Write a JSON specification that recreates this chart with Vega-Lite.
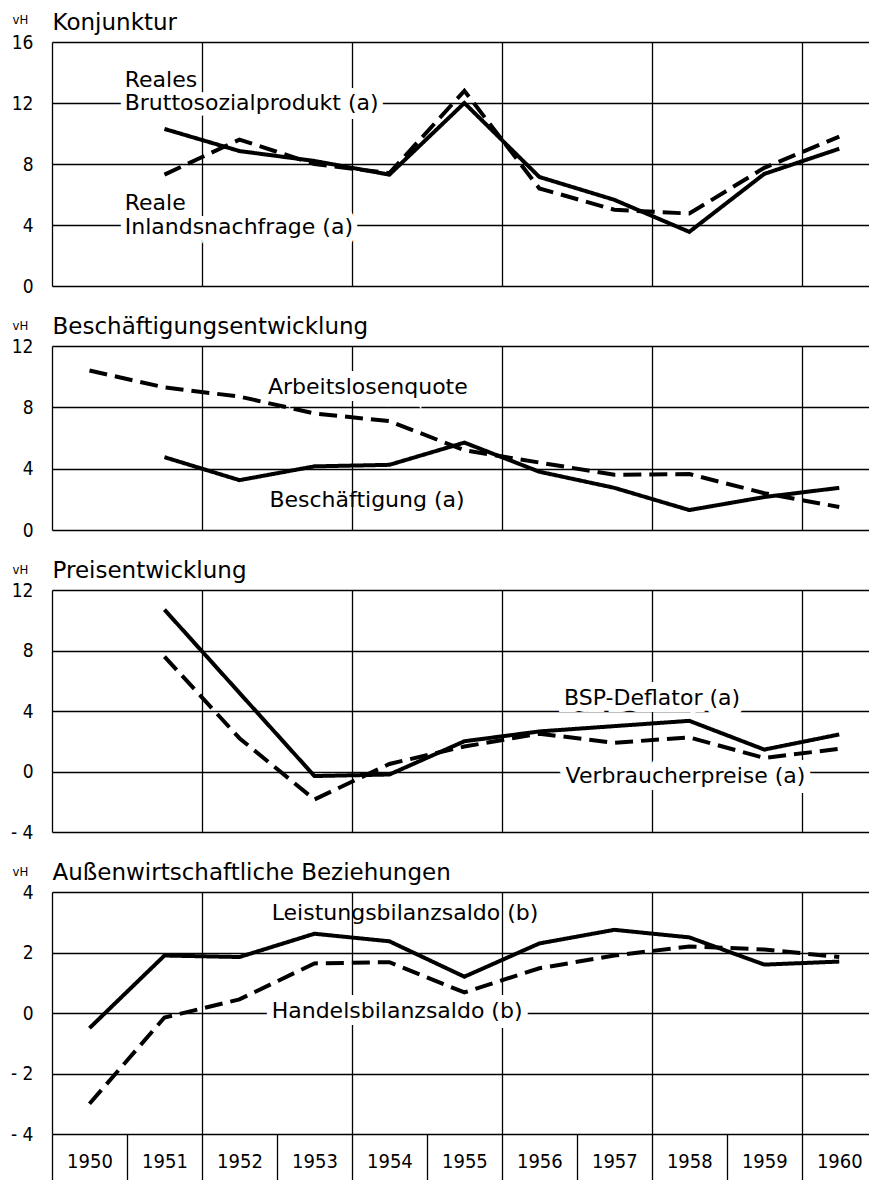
{
  "$schema": "https://vega.github.io/schema/vega-lite/v6.json",
  "background": "white",
  "padding": {"left": 10, "top": 11, "right": 0, "bottom": 0},
  "config": {
    "view": {"stroke": null},
    "font": "DejaVu Sans",
    "text": {"font": "DejaVu Sans"}
  },
  "spacing": 60,
  "bounds": "flush",
  "datasets": {
    "series": [
      {"panel": 1, "series": "Reales Bruttosozialprodukt", "year": 1951, "value": 10.3},
      {"panel": 1, "series": "Reales Bruttosozialprodukt", "year": 1952, "value": 8.85},
      {"panel": 1, "series": "Reales Bruttosozialprodukt", "year": 1953, "value": 8.2},
      {"panel": 1, "series": "Reales Bruttosozialprodukt", "year": 1954, "value": 7.3},
      {"panel": 1, "series": "Reales Bruttosozialprodukt", "year": 1955, "value": 12.0},
      {"panel": 1, "series": "Reales Bruttosozialprodukt", "year": 1956, "value": 7.15},
      {"panel": 1, "series": "Reales Bruttosozialprodukt", "year": 1957, "value": 5.65},
      {"panel": 1, "series": "Reales Bruttosozialprodukt", "year": 1958, "value": 3.55},
      {"panel": 1, "series": "Reales Bruttosozialprodukt", "year": 1959, "value": 7.35},
      {"panel": 1, "series": "Reales Bruttosozialprodukt", "year": 1960, "value": 9.0},
      {"panel": 1, "series": "Reale Inlandsnachfrage", "year": 1951, "value": 7.3},
      {"panel": 1, "series": "Reale Inlandsnachfrage", "year": 1952, "value": 9.6},
      {"panel": 1, "series": "Reale Inlandsnachfrage", "year": 1953, "value": 8.0},
      {"panel": 1, "series": "Reale Inlandsnachfrage", "year": 1954, "value": 7.4},
      {"panel": 1, "series": "Reale Inlandsnachfrage", "year": 1955, "value": 12.8},
      {"panel": 1, "series": "Reale Inlandsnachfrage", "year": 1956, "value": 6.4},
      {"panel": 1, "series": "Reale Inlandsnachfrage", "year": 1957, "value": 5.0},
      {"panel": 1, "series": "Reale Inlandsnachfrage", "year": 1958, "value": 4.75},
      {"panel": 1, "series": "Reale Inlandsnachfrage", "year": 1959, "value": 7.75},
      {"panel": 1, "series": "Reale Inlandsnachfrage", "year": 1960, "value": 9.8},
      {"panel": 2, "series": "Beschäftigung", "year": 1951, "value": 4.75},
      {"panel": 2, "series": "Beschäftigung", "year": 1952, "value": 3.25},
      {"panel": 2, "series": "Beschäftigung", "year": 1953, "value": 4.15},
      {"panel": 2, "series": "Beschäftigung", "year": 1954, "value": 4.25},
      {"panel": 2, "series": "Beschäftigung", "year": 1955, "value": 5.7},
      {"panel": 2, "series": "Beschäftigung", "year": 1956, "value": 3.8},
      {"panel": 2, "series": "Beschäftigung", "year": 1957, "value": 2.75},
      {"panel": 2, "series": "Beschäftigung", "year": 1958, "value": 1.3},
      {"panel": 2, "series": "Beschäftigung", "year": 1959, "value": 2.15},
      {"panel": 2, "series": "Beschäftigung", "year": 1960, "value": 2.75},
      {"panel": 2, "series": "Arbeitslosenquote", "year": 1950, "value": 10.4},
      {"panel": 2, "series": "Arbeitslosenquote", "year": 1951, "value": 9.3},
      {"panel": 2, "series": "Arbeitslosenquote", "year": 1952, "value": 8.7},
      {"panel": 2, "series": "Arbeitslosenquote", "year": 1953, "value": 7.6},
      {"panel": 2, "series": "Arbeitslosenquote", "year": 1954, "value": 7.1},
      {"panel": 2, "series": "Arbeitslosenquote", "year": 1955, "value": 5.2},
      {"panel": 2, "series": "Arbeitslosenquote", "year": 1956, "value": 4.4},
      {"panel": 2, "series": "Arbeitslosenquote", "year": 1957, "value": 3.6},
      {"panel": 2, "series": "Arbeitslosenquote", "year": 1958, "value": 3.65},
      {"panel": 2, "series": "Arbeitslosenquote", "year": 1959, "value": 2.4},
      {"panel": 2, "series": "Arbeitslosenquote", "year": 1960, "value": 1.5},
      {"panel": 3, "series": "BSP-Deflator", "year": 1951, "value": 10.7},
      {"panel": 3, "series": "BSP-Deflator", "year": 1952, "value": 5.2},
      {"panel": 3, "series": "BSP-Deflator", "year": 1953, "value": -0.3},
      {"panel": 3, "series": "BSP-Deflator", "year": 1954, "value": -0.2},
      {"panel": 3, "series": "BSP-Deflator", "year": 1955, "value": 2.0},
      {"panel": 3, "series": "BSP-Deflator", "year": 1956, "value": 2.65},
      {"panel": 3, "series": "BSP-Deflator", "year": 1957, "value": 3.0},
      {"panel": 3, "series": "BSP-Deflator", "year": 1958, "value": 3.35},
      {"panel": 3, "series": "BSP-Deflator", "year": 1959, "value": 1.45},
      {"panel": 3, "series": "BSP-Deflator", "year": 1960, "value": 2.45},
      {"panel": 3, "series": "Verbraucherpreise", "year": 1951, "value": 7.6},
      {"panel": 3, "series": "Verbraucherpreise", "year": 1952, "value": 2.2},
      {"panel": 3, "series": "Verbraucherpreise", "year": 1953, "value": -1.85},
      {"panel": 3, "series": "Verbraucherpreise", "year": 1954, "value": 0.5},
      {"panel": 3, "series": "Verbraucherpreise", "year": 1955, "value": 1.65},
      {"panel": 3, "series": "Verbraucherpreise", "year": 1956, "value": 2.5},
      {"panel": 3, "series": "Verbraucherpreise", "year": 1957, "value": 1.9},
      {"panel": 3, "series": "Verbraucherpreise", "year": 1958, "value": 2.25},
      {"panel": 3, "series": "Verbraucherpreise", "year": 1959, "value": 0.9},
      {"panel": 3, "series": "Verbraucherpreise", "year": 1960, "value": 1.5},
      {"panel": 4, "series": "Leistungsbilanzsaldo", "year": 1950, "value": -0.5},
      {"panel": 4, "series": "Leistungsbilanzsaldo", "year": 1951, "value": 1.9},
      {"panel": 4, "series": "Leistungsbilanzsaldo", "year": 1952, "value": 1.85},
      {"panel": 4, "series": "Leistungsbilanzsaldo", "year": 1953, "value": 2.62},
      {"panel": 4, "series": "Leistungsbilanzsaldo", "year": 1954, "value": 2.37},
      {"panel": 4, "series": "Leistungsbilanzsaldo", "year": 1955, "value": 1.2},
      {"panel": 4, "series": "Leistungsbilanzsaldo", "year": 1956, "value": 2.3},
      {"panel": 4, "series": "Leistungsbilanzsaldo", "year": 1957, "value": 2.75},
      {"panel": 4, "series": "Leistungsbilanzsaldo", "year": 1958, "value": 2.5},
      {"panel": 4, "series": "Leistungsbilanzsaldo", "year": 1959, "value": 1.6},
      {"panel": 4, "series": "Leistungsbilanzsaldo", "year": 1960, "value": 1.7},
      {"panel": 4, "series": "Handelsbilanzsaldo", "year": 1950, "value": -3.0},
      {"panel": 4, "series": "Handelsbilanzsaldo", "year": 1951, "value": -0.15},
      {"panel": 4, "series": "Handelsbilanzsaldo", "year": 1952, "value": 0.45},
      {"panel": 4, "series": "Handelsbilanzsaldo", "year": 1953, "value": 1.64},
      {"panel": 4, "series": "Handelsbilanzsaldo", "year": 1954, "value": 1.68},
      {"panel": 4, "series": "Handelsbilanzsaldo", "year": 1955, "value": 0.68},
      {"panel": 4, "series": "Handelsbilanzsaldo", "year": 1956, "value": 1.48},
      {"panel": 4, "series": "Handelsbilanzsaldo", "year": 1957, "value": 1.9},
      {"panel": 4, "series": "Handelsbilanzsaldo", "year": 1958, "value": 2.2},
      {"panel": 4, "series": "Handelsbilanzsaldo", "year": 1959, "value": 2.1},
      {"panel": 4, "series": "Handelsbilanzsaldo", "year": 1960, "value": 1.85}
    ],
    "labels": [
      {"panel": 1, "text": "Reales", "year": 1950.47, "value": 13.5},
      {"panel": 1, "text": "Bruttosozialprodukt (a)", "year": 1950.47, "value": 12.0},
      {"panel": 1, "text": "Reale", "year": 1950.47, "value": 5.45},
      {"panel": 1, "text": "Inlandsnachfrage (a)", "year": 1950.47, "value": 3.9},
      {"panel": 2, "text": "Arbeitslosenquote", "year": 1952.38, "value": 9.3},
      {"panel": 2, "text": "Beschäftigung (a)", "year": 1952.4, "value": 1.96},
      {"panel": 3, "text": "BSP-Deflator (a)", "year": 1956.33, "value": 4.85},
      {"panel": 3, "text": "Verbraucherpreise (a)", "year": 1956.35, "value": -0.3},
      {"panel": 4, "text": "Leistungsbilanzsaldo (b)", "year": 1952.43, "value": 3.3},
      {"panel": 4, "text": "Handelsbilanzsaldo (b)", "year": 1952.43, "value": 0.07}
    ]
  },
  "vconcat": [
    {
      "width": 821, "height": 244,
      "resolve": {"axis": {"x": "independent"}},
      "layer": [
        {
          "data": {"name": "labels"},
          "transform": [{"filter": "datum.panel == 1 && (datum.text == 'Bruttosozialprodukt (a)' || datum.text == 'Inlandsnachfrage (a)')"}],
          "mark": {"type": "text", "align": "left", "baseline": "middle", "fontSize": 22, "fill": "white", "stroke": "white", "strokeWidth": 12},
          "encoding": {
            "x": {"field": "year", "type": "quantitative", "scale": {"domain": [1949.5, 1960.45], "nice": false, "zero": false},
              "axis": {"orient": "top", "values": [1949.5, 1951.5, 1953.5, 1955.5, 1957.5, 1959.5], "grid": true, "gridColor": "black", "gridWidth": 1.3, "gridOpacity": 1, "labels": false, "ticks": false, "domain": false,
                "title": "Konjunktur", "titleX": 0, "titleY": -13, "titleAlign": "left", "titleAnchor": "start", "titleBaseline": "alphabetic", "titleFontSize": 23, "titleFontWeight": "normal", "titleFont": "DejaVu Sans", "titleColor": "black", "titlePadding": 0}},
            "y": {"field": "value", "type": "quantitative", "scale": {"domain": [0, 16], "nice": false, "zero": false},
              "axis": {"values": [0, 4, 8, 12, 16], "grid": true, "gridColor": "black", "gridWidth": 1.3, "gridOpacity": 1, "domain": false, "ticks": false, "labelPadding": 19, "labelFontSize": 19, "labelFont": "DejaVu Sans Condensed", "labelColor": "black", "labelFlush": false, "labelOverlap": false, "labelBound": false, "labelExpr": "datum.value < 0 ? '- ' + abs(datum.value) : datum.label",
                "title": "vH", "titleAngle": 0, "titleX": -40, "titleY": -19, "titleAlign": "left", "titleBaseline": "alphabetic", "titleFontSize": 13, "titleFontWeight": "normal", "titleFont": "DejaVu Sans Condensed", "titleColor": "black"}},
            "text": {"field": "text"}
          }
        },
        {
          "data": {"name": "series"},
          "transform": [{"filter": "datum.panel == 1"}],
          "mark": {"type": "line", "color": "black", "strokeWidth": 4, "strokeCap": "butt"},
          "encoding": {
            "x": {"field": "year", "type": "quantitative", "axis": null},
            "y": {"field": "value", "type": "quantitative"},
            "strokeDash": {"field": "series", "type": "nominal", "scale": {"domain": ["Reales Bruttosozialprodukt", "Reale Inlandsnachfrage"], "range": [[1, 0], [18, 8]]}, "legend": null}
          }
        },
        {
          "data": {"name": "labels"},
          "transform": [{"filter": "datum.panel == 1"}],
          "mark": {"type": "text", "align": "left", "baseline": "middle", "fontSize": 22, "color": "black"},
          "encoding": {
            "x": {"field": "year", "type": "quantitative", "axis": null},
            "y": {"field": "value", "type": "quantitative"},
            "text": {"field": "text"}
          }
        }
      ]
    },
    {
      "width": 821, "height": 184,
      "resolve": {"axis": {"x": "independent"}},
      "layer": [
        {
          "data": {"name": "labels"},
          "transform": [{"filter": "datum.panel == 2 && datum.text == 'Arbeitslosenquote'"}],
          "mark": {"type": "text", "align": "left", "baseline": "middle", "fontSize": 22, "fill": "white", "stroke": "white", "strokeWidth": 14},
          "encoding": {
            "x": {"field": "year", "type": "quantitative", "scale": {"domain": [1949.5, 1960.45], "nice": false, "zero": false},
              "axis": {"orient": "top", "values": [1949.5, 1951.5, 1953.5, 1955.5, 1957.5, 1959.5], "grid": true, "gridColor": "black", "gridWidth": 1.3, "gridOpacity": 1, "labels": false, "ticks": false, "domain": false,
                "title": "Beschäftigungsentwicklung", "titleX": 0, "titleY": -13, "titleAlign": "left", "titleAnchor": "start", "titleBaseline": "alphabetic", "titleFontSize": 23, "titleFontWeight": "normal", "titleFont": "DejaVu Sans", "titleColor": "black", "titlePadding": 0}},
            "y": {"field": "value", "type": "quantitative", "scale": {"domain": [0, 12], "nice": false, "zero": false},
              "axis": {"values": [0, 4, 8, 12], "grid": true, "gridColor": "black", "gridWidth": 1.3, "gridOpacity": 1, "domain": false, "ticks": false, "labelPadding": 19, "labelFontSize": 19, "labelFont": "DejaVu Sans Condensed", "labelColor": "black", "labelFlush": false, "labelOverlap": false, "labelBound": false, "labelExpr": "datum.value < 0 ? '- ' + abs(datum.value) : datum.label",
                "title": "vH", "titleAngle": 0, "titleX": -40, "titleY": -17, "titleAlign": "left", "titleBaseline": "alphabetic", "titleFontSize": 13, "titleFontWeight": "normal", "titleFont": "DejaVu Sans Condensed", "titleColor": "black"}},
            "text": {"field": "text"}
          }
        },
        {
          "data": {"name": "series"},
          "transform": [{"filter": "datum.panel == 2"}],
          "mark": {"type": "line", "color": "black", "strokeWidth": 4, "strokeCap": "butt"},
          "encoding": {
            "x": {"field": "year", "type": "quantitative", "axis": null},
            "y": {"field": "value", "type": "quantitative"},
            "strokeDash": {"field": "series", "type": "nominal", "scale": {"domain": ["Beschäftigung", "Arbeitslosenquote"], "range": [[1, 0], [18, 8]]}, "legend": null}
          }
        },
        {
          "data": {"name": "labels"},
          "transform": [{"filter": "datum.panel == 2"}],
          "mark": {"type": "text", "align": "left", "baseline": "middle", "fontSize": 22, "color": "black"},
          "encoding": {
            "x": {"field": "year", "type": "quantitative", "axis": null},
            "y": {"field": "value", "type": "quantitative"},
            "text": {"field": "text"}
          }
        }
      ]
    },
    {
      "width": 821, "height": 242,
      "resolve": {"axis": {"x": "independent"}},
      "layer": [
        {
          "data": {"name": "labels"},
          "transform": [{"filter": "datum.panel == 3"}],
          "mark": {"type": "text", "align": "left", "baseline": "middle", "fontSize": 22, "fill": "white", "stroke": "white", "strokeWidth": 14},
          "encoding": {
            "x": {"field": "year", "type": "quantitative", "scale": {"domain": [1949.5, 1960.45], "nice": false, "zero": false},
              "axis": {"orient": "top", "values": [1949.5, 1951.5, 1953.5, 1955.5, 1957.5, 1959.5], "grid": true, "gridColor": "black", "gridWidth": 1.3, "gridOpacity": 1, "labels": false, "ticks": false, "domain": false,
                "title": "Preisentwicklung", "titleX": 0, "titleY": -13, "titleAlign": "left", "titleAnchor": "start", "titleBaseline": "alphabetic", "titleFontSize": 23, "titleFontWeight": "normal", "titleFont": "DejaVu Sans", "titleColor": "black", "titlePadding": 0}},
            "y": {"field": "value", "type": "quantitative", "scale": {"domain": [-4, 12], "nice": false, "zero": false},
              "axis": {"values": [-4, 0, 4, 8, 12], "grid": true, "gridColor": "black", "gridWidth": 1.3, "gridOpacity": 1, "domain": false, "ticks": false, "labelPadding": 19, "labelFontSize": 19, "labelFont": "DejaVu Sans Condensed", "labelColor": "black", "labelFlush": false, "labelOverlap": false, "labelBound": false, "labelExpr": "datum.value < 0 ? '- ' + abs(datum.value) : datum.label",
                "title": "vH", "titleAngle": 0, "titleX": -40, "titleY": -17, "titleAlign": "left", "titleBaseline": "alphabetic", "titleFontSize": 13, "titleFontWeight": "normal", "titleFont": "DejaVu Sans Condensed", "titleColor": "black"}},
            "text": {"field": "text"}
          }
        },
        {
          "data": {"name": "series"},
          "transform": [{"filter": "datum.panel == 3"}],
          "mark": {"type": "line", "color": "black", "strokeWidth": 4, "strokeCap": "butt"},
          "encoding": {
            "x": {"field": "year", "type": "quantitative", "axis": null},
            "y": {"field": "value", "type": "quantitative"},
            "strokeDash": {"field": "series", "type": "nominal", "scale": {"domain": ["BSP-Deflator", "Verbraucherpreise"], "range": [[1, 0], [18, 8]]}, "legend": null}
          }
        },
        {
          "data": {"name": "labels"},
          "transform": [{"filter": "datum.panel == 3"}],
          "mark": {"type": "text", "align": "left", "baseline": "middle", "fontSize": 22, "color": "black"},
          "encoding": {
            "x": {"field": "year", "type": "quantitative", "axis": null},
            "y": {"field": "value", "type": "quantitative"},
            "text": {"field": "text"}
          }
        }
      ]
    },
    {
      "width": 821, "height": 242,
      "resolve": {"axis": {"x": "independent"}},
      "layer": [
        {
          "data": {"name": "labels"},
          "transform": [{"filter": "datum.panel == 4 && datum.text == 'Handelsbilanzsaldo (b)'"}],
          "mark": {"type": "text", "align": "left", "baseline": "middle", "fontSize": 22, "fill": "white", "stroke": "white", "strokeWidth": 14},
          "encoding": {
            "x": {"field": "year", "type": "quantitative", "scale": {"domain": [1949.5, 1960.45], "nice": false, "zero": false},
              "axis": {"orient": "top", "values": [1949.5, 1951.5, 1953.5, 1955.5, 1957.5, 1959.5], "grid": true, "gridColor": "black", "gridWidth": 1.3, "gridOpacity": 1, "labels": false, "ticks": false, "domain": false,
                "title": "Außenwirtschaftliche Beziehungen", "titleX": 0, "titleY": -13, "titleAlign": "left", "titleAnchor": "start", "titleBaseline": "alphabetic", "titleFontSize": 23, "titleFontWeight": "normal", "titleFont": "DejaVu Sans", "titleColor": "black", "titlePadding": 0}},
            "y": {"field": "value", "type": "quantitative", "scale": {"domain": [-4, 4], "nice": false, "zero": false},
              "axis": {"values": [-4, -2, 0, 2, 4], "grid": true, "gridColor": "black", "gridWidth": 1.3, "gridOpacity": 1, "domain": false, "ticks": false, "labelPadding": 19, "labelFontSize": 19, "labelFont": "DejaVu Sans Condensed", "labelColor": "black", "labelFlush": false, "labelOverlap": false, "labelBound": false, "labelExpr": "datum.value < 0 ? '- ' + abs(datum.value) : datum.label",
                "title": "vH", "titleAngle": 0, "titleX": -40, "titleY": -17, "titleAlign": "left", "titleBaseline": "alphabetic", "titleFontSize": 13, "titleFontWeight": "normal", "titleFont": "DejaVu Sans Condensed", "titleColor": "black"}},
            "text": {"field": "text"}
          }
        },
        {
          "data": {"name": "series"},
          "transform": [{"filter": "datum.panel == 4"}],
          "mark": {"type": "line", "color": "black", "strokeWidth": 4, "strokeCap": "butt"},
          "encoding": {
            "x": {"field": "year", "type": "quantitative",
              "axis": {"orient": "bottom", "values": [1949.5, 1950.5, 1951.5, 1952.5, 1953.5, 1954.5, 1955.5, 1956.5, 1957.5, 1958.5, 1959.5], "labelExpr": "format(datum.value + 0.5, 'd')", "labelOffset": 37.5, "tickSize": 46, "tickColor": "black", "tickWidth": 1.3, "domain": false, "grid": false, "labelPadding": -19, "labelBaseline": "middle", "labelAlign": "center", "labelFontSize": 20, "labelColor": "black", "labelFont": "DejaVu Sans Condensed", "labelFlush": false, "labelOverlap": false, "labelBound": false, "title": null}},
            "y": {"field": "value", "type": "quantitative"},
            "strokeDash": {"field": "series", "type": "nominal", "scale": {"domain": ["Leistungsbilanzsaldo", "Handelsbilanzsaldo"], "range": [[1, 0], [18, 8]]}, "legend": null}
          }
        },
        {
          "data": {"name": "labels"},
          "transform": [{"filter": "datum.panel == 4"}],
          "mark": {"type": "text", "align": "left", "baseline": "middle", "fontSize": 22, "color": "black"},
          "encoding": {
            "x": {"field": "year", "type": "quantitative", "axis": null},
            "y": {"field": "value", "type": "quantitative"},
            "text": {"field": "text"}
          }
        }
      ]
    }
  ]
}
